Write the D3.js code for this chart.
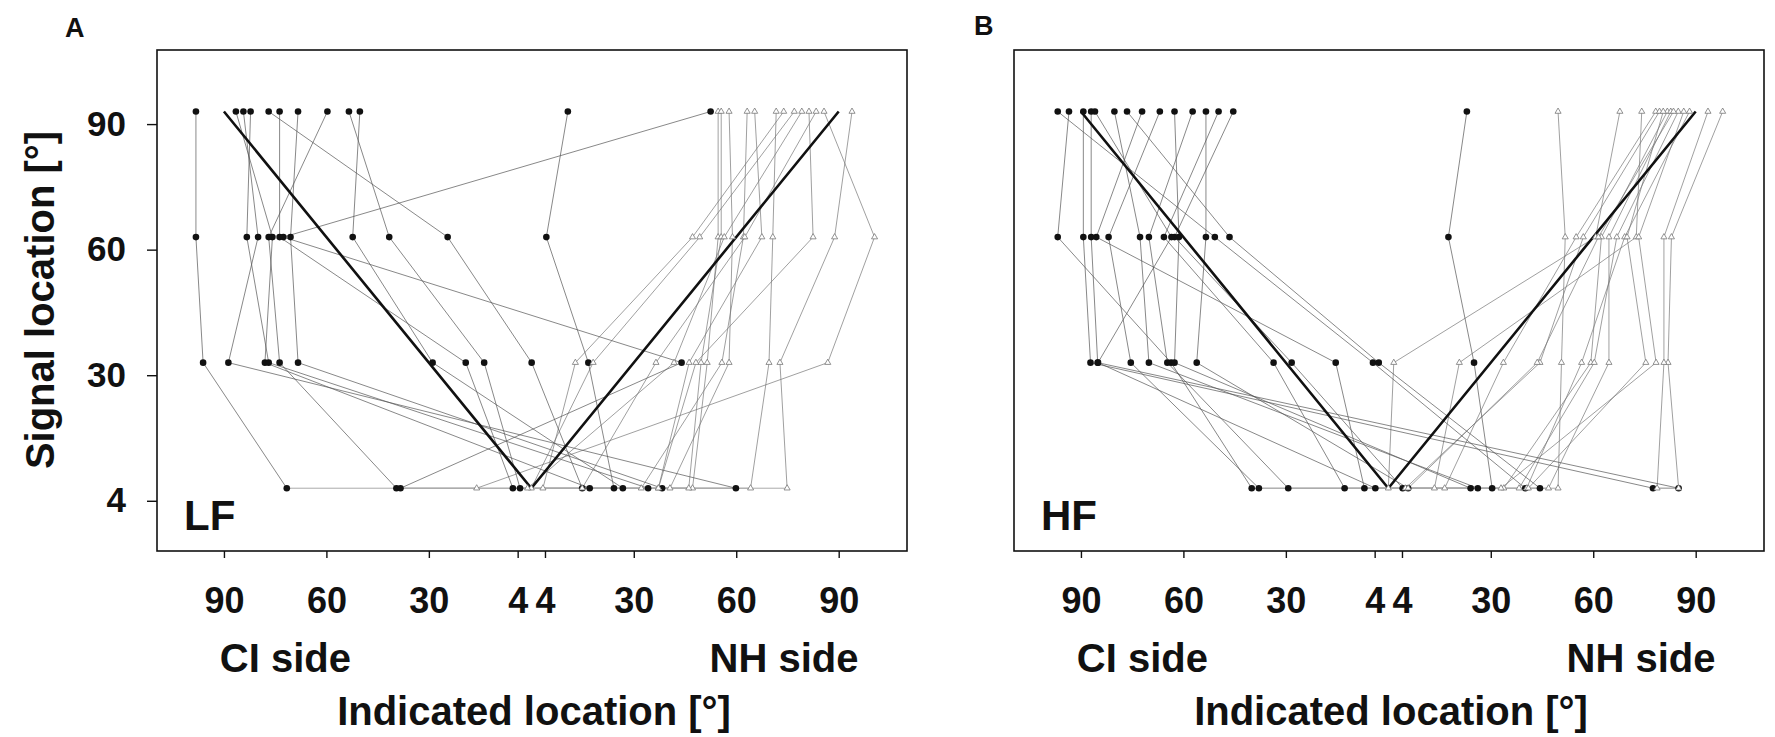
<!DOCTYPE html>
<html>
<head>
<meta charset="utf-8">
<script src="https://cdn.jsdelivr.net/npm/d3@7"></script>
<style>
  body { margin: 0; background: #fff; }
  text { font-family: "Liberation Sans", Arial, sans-serif; font-weight: bold; fill: #111; }
</style>
</head>
<body>
<div id="chart-area"></div>
<script>
// signal locations (rows, top to bottom) and x tick values (negative = CI side)
var signalLocations = [90, 60, 30, 4];
var xTickValues = [-90, -60, -30, -4, 4, 30, 60, 90];

// perfect response: CI 90 -> centre -> NH 90
var idealResponse = [[-90, 90], [0, 4], [90, 90]];

// indicated location per listener, signal on CI side (order: 90, 60, 30, 4)
var lfCiSide = [
    [-98.2, -98.2, -96.1, -71.6],
    [-86.5, -75.8, -78.0, 17.1],
    [-84.3, -80.0, -88.7, 59.9],
    [-82.2, -83.3, -76.9, 34.2],
    [-76.9, -24.5, 0.1, 14.9],
    [-73.7, -73.7, -19.2, -5.4],
    [-68.3, -70.5, -68.3, 38.3],
    [-59.7, -76.9, -73.7, -39.5],
    [-53.4, -41.6, -13.8, -3.3],
    [-50.2, -52.3, -28.9, 26.8],
    [10.7, 4.4, 16.7, 24.2],
    [52.5, -72.6, 44.0, -38.3]
];
// signal on NH side (order: 90, 60, 30, 4)
var lfNhSide = [
    [85.7, 100.5, 86.8, -16.0],
    [93.9, 88.8, 72.8, 74.9],
    [81.3, 82.5, 48.2, 37.2],
    [71.7, 70.7, 69.6, 64.2],
    [54.7, 54.7, 51.5, 47.2],
    [55.6, 55.6, 49.7, 46.1],
    [57.9, 58.9, 57.9, 40.6],
    [63.2, 62.1, 55.8, 32.2],
    [65.4, 67.5, 46.2, 37.2],
    [73.9, 47.2, 12.9, 3.4],
    [77.0, 49.3, 18.1, 0.0],
    [79.2, 56.5, 41.8, -1.1],
    [83.4, 62.5, 36.5, 14.9]
];

var hfCiSide = [
    [-93.5, -96.8, -63.6, -40.0],
    [-89.3, -89.3, -87.2, 77.5],
    [-87.0, -87.0, -85.1, 85.0],
    [-80.2, -72.7, -70.1, 26.2],
    [-66.9, -81.9, -75.4, -37.9],
    [-62.6, -61.3, -62.6, 24.1],
    [-57.3, -70.1, -64.7, -29.3],
    [-53.4, -53.4, -56.1, 5.8],
    [-49.7, -65.7, -33.6, -12.8],
    [-45.4, -62.6, -28.3, 4.2],
    [-96.8, -50.8, -4.5, 40.1],
    [-76.5, -46.5, -2.8, 44.4],
    [-72.1, -85.5, -15.4, -7.0],
    [-85.9, -63.5, -85.0, -3.8],
    [23.0, 17.6, 25.1, 30.4]
];
var hfNhSide = [
    [49.7, 51.8, 50.7, 49.7],
    [97.9, 82.9, 81.9, 85.0],
    [93.6, 80.7, 80.7, 78.7],
    [67.8, 60.7, 1.6, 0.0],
    [74.2, 72.6, 20.8, 13.5],
    [78.3, 55.0, 33.7, 16.5],
    [79.4, 57.1, 44.4, 5.0],
    [81.7, 62.4, 59.3, 33.8],
    [82.7, 64.6, 64.6, 46.9],
    [84.9, 66.9, 60.3, 38.3],
    [88.2, 69.2, 56.6, 40.5],
    [80.5, 69.9, 75.4, 41.0],
    [86.5, 73.3, 78.4, 33.0],
    [83.5, 61.5, 43.6, 5.8]
];

var panels = [
    { letter: "A", band: "LF", ci: lfCiSide, nh: lfNhSide, offset: 0, yAxis: true },
    { letter: "B", band: "HF", ci: hfCiSide, nh: hfNhSide, offset: 857, yAxis: false }
];

var width = 1775, height = 737;
var pointLift = 0.1; // points sit a little above their row tick

var x = d3.scaleLinear().domain([-109.6, 110]).range([157, 907]);
var y = d3.scaleLinear().domain([-0.4, 3.59]).range([551, 50]);

function rowOf(signal) {
    return signalLocations.length - 1 - signalLocations.indexOf(signal);
}

var line = d3.line()
    .x(function(d){ return x(d[0]); })
    .y(function(d){ return y(rowOf(d[1]) + pointLift); });

var svg = d3.select("#chart-area").append("svg")
    .attr("width", width)
    .attr("height", height);

svg.append("rect").attr("width", width).attr("height", height).attr("fill", "#fff");

panels.forEach(function(p){
    var g = svg.append("g").attr("transform", "translate(" + p.offset + ",0)");

    // turn the rows into [response, signal] pairs
    var ciPts = p.ci.map(function(r){
        return r.map(function(v, i){ return [v, signalLocations[i]]; });
    });
    var nhPts = p.nh.map(function(r){
        return r.map(function(v, i){ return [v, signalLocations[i]]; });
    });

    // join of the two 4 deg responses of the same listener
    var n = Math.min(ciPts.length, nhPts.length);
    var joins = [];
    for (var i = 0; i < n; i++) {
        joins.push([ciPts[i][3], nhPts[i][3]]);
    }

    g.selectAll(".join").data(joins).enter()
        .append("path")
            .attr("d", line)
            .attr("fill", "none")
            .attr("stroke", "#aaa")
            .attr("stroke-width", 1);

    g.selectAll(".nh-line").data(nhPts).enter()
        .append("path")
            .attr("d", line)
            .attr("fill", "none")
            .attr("stroke", "#777")
            .attr("stroke-width", 0.7);

    g.selectAll(".ci-line").data(ciPts).enter()
        .append("path")
            .attr("d", line)
            .attr("fill", "none")
            .attr("stroke", "#555")
            .attr("stroke-width", 0.7);

    // ideal response
    g.append("path")
        .datum(idealResponse)
        .attr("d", line)
        .attr("fill", "none")
        .attr("stroke", "#111")
        .attr("stroke-width", 2.6);

    // CI-side signals: filled dots
    g.selectAll(".dot").data(d3.merge(ciPts)).enter()
        .append("circle")
            .attr("cx", function(d){ return x(d[0]); })
            .attr("cy", function(d){ return y(rowOf(d[1]) + pointLift); })
            .attr("r", 3.3)
            .attr("fill", "#111");

    // NH-side signals: open triangles
    var tri = d3.symbol().type(d3.symbolTriangle).size(16);
    g.selectAll(".tri").data(d3.merge(nhPts)).enter()
        .append("path")
            .attr("d", tri)
            .attr("transform", function(d){
                return "translate(" + x(d[0]) + "," + y(rowOf(d[1]) + pointLift) + ")";
            })
            .attr("fill", "#fff")
            .attr("stroke", "#777")
            .attr("stroke-width", 0.8);

    // frame
    g.append("rect")
        .attr("x", x.range()[0])
        .attr("y", y.range()[1])
        .attr("width", x.range()[1] - x.range()[0])
        .attr("height", y.range()[0] - y.range()[1])
        .attr("fill", "none")
        .attr("stroke", "#111")
        .attr("stroke-width", 1.6);

    // x axis
    var xAxis = g.append("g")
        .attr("transform", "translate(0," + y.range()[0] + ")")
        .call(d3.axisBottom(x)
            .tickValues(xTickValues)
            .tickFormat(function(d){ return Math.abs(d); })
            .tickSize(7)
            .tickPadding(29));
    xAxis.select(".domain").remove();
    xAxis.selectAll("line").attr("stroke", "#111").attr("stroke-width", 1.4);
    xAxis.selectAll("text").attr("font-size", 36).attr("fill", "#111")
        .style("font-family", "'Liberation Sans', Arial, sans-serif");

    if (p.yAxis) {
        var yAxis = g.append("g")
            .attr("transform", "translate(" + x.range()[0] + ",0)")
            .call(d3.axisLeft(y)
                .tickValues([3, 2, 1, 0])
                .tickFormat(function(i){ return signalLocations[signalLocations.length - 1 - i]; })
                .tickSize(10)
                .tickPadding(21));
        yAxis.select(".domain").remove();
        yAxis.selectAll("line").attr("stroke", "#111").attr("stroke-width", 1.4);
        yAxis.selectAll("text").attr("font-size", 35).attr("fill", "#111")
            .style("font-family", "'Liberation Sans', Arial, sans-serif");

        g.append("text")
            .attr("transform", "translate(54,300) rotate(-90)")
            .attr("text-anchor", "middle")
            .attr("font-size", 40)
            .text("Signal location [°]");
    }

    // side labels and axis title
    g.append("text")
        .attr("x", x(-72)).attr("y", 672)
        .attr("text-anchor", "middle")
        .attr("font-size", 40)
        .text("CI side");
    g.append("text")
        .attr("x", x(74)).attr("y", 672)
        .attr("text-anchor", "middle")
        .attr("font-size", 40)
        .text("NH side");
    g.append("text")
        .attr("x", x(0.8)).attr("y", 725)
        .attr("text-anchor", "middle")
        .attr("font-size", 40)
        .text("Indicated location [°]");

    // band label inside the frame
    g.append("text")
        .attr("x", 184).attr("y", 530)
        .attr("font-size", 42)
        .text(p.band);
});

// panel letters
svg.append("text").attr("x", 65).attr("y", 37).attr("font-size", 27).text("A");
svg.append("text").attr("x", 974).attr("y", 35).attr("font-size", 27).text("B");
</script>
</body>
</html>
